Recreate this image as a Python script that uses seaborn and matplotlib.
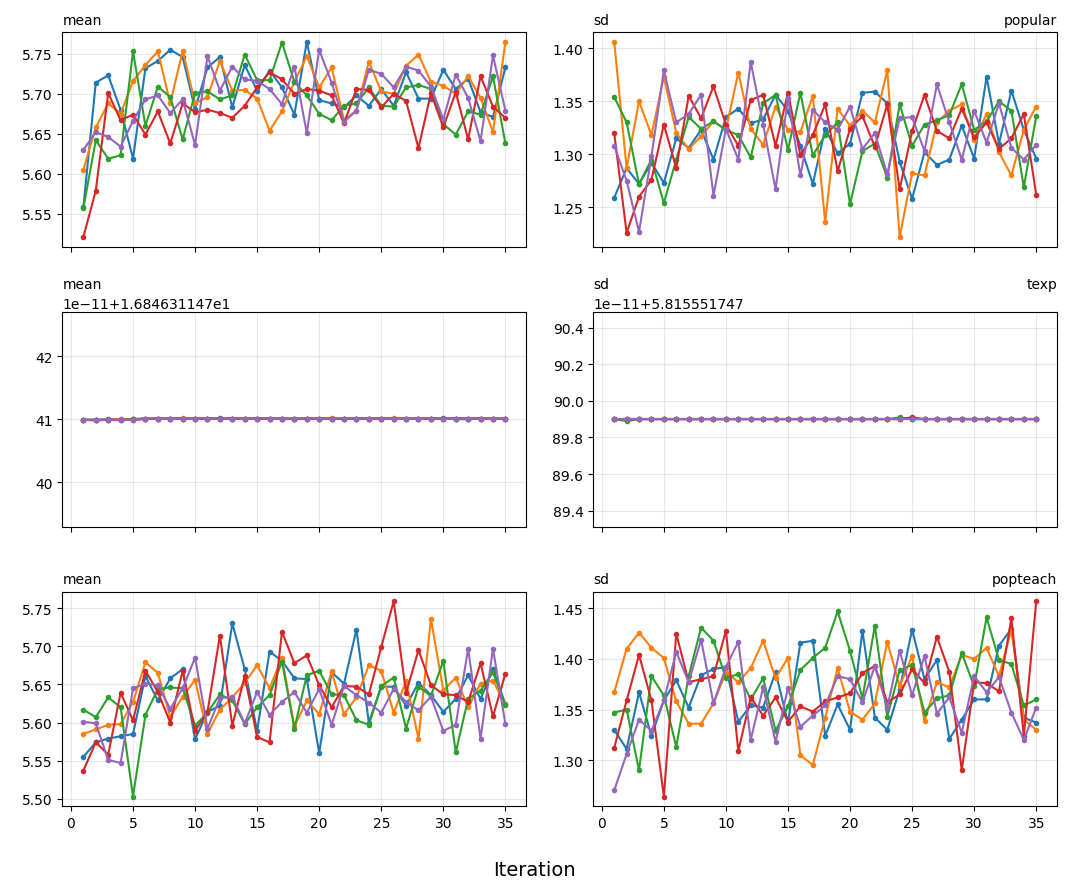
import numpy as np
import pandas as pd
import seaborn as sns
import matplotlib.pyplot as plt

# data
iterations = list(range(1, 36))
runs = ["run 1", "run 2", "run 3", "run 4", "run 5"]

popular_mean = [
    [5.558, 5.714, 5.723, 5.680, 5.619, 5.732, 5.741, 5.755, 5.746, 5.681, 5.733, 5.746, 5.683, 5.736, 5.704, 5.729, 5.708, 5.674,
     5.765, 5.692, 5.688, 5.683, 5.698, 5.685, 5.706, 5.685, 5.727, 5.694, 5.694, 5.730, 5.706, 5.719, 5.677, 5.671, 5.733],
    [5.605, 5.658, 5.688, 5.675, 5.716, 5.736, 5.753, 5.688, 5.754, 5.688, 5.696, 5.741, 5.704, 5.705, 5.694, 5.654, 5.678, 5.715,
     5.747, 5.708, 5.733, 5.667, 5.679, 5.740, 5.703, 5.700, 5.735, 5.749, 5.715, 5.710, 5.700, 5.722, 5.695, 5.652, 5.765],
    [5.557, 5.642, 5.619, 5.623, 5.753, 5.660, 5.709, 5.696, 5.643, 5.701, 5.703, 5.693, 5.698, 5.749, 5.717, 5.717, 5.764, 5.715,
     5.698, 5.675, 5.667, 5.685, 5.688, 5.708, 5.685, 5.684, 5.708, 5.711, 5.706, 5.662, 5.649, 5.678, 5.674, 5.722, 5.638],
    [5.521, 5.579, 5.701, 5.667, 5.674, 5.649, 5.678, 5.638, 5.688, 5.677, 5.680, 5.676, 5.670, 5.685, 5.708, 5.727, 5.718, 5.700,
     5.706, 5.704, 5.698, 5.663, 5.706, 5.705, 5.683, 5.700, 5.691, 5.632, 5.701, 5.658, 5.702, 5.643, 5.722, 5.684, 5.670],
    [5.630, 5.652, 5.646, 5.634, 5.666, 5.693, 5.698, 5.676, 5.693, 5.636, 5.747, 5.704, 5.734, 5.718, 5.716, 5.706, 5.687, 5.734,
     5.651, 5.755, 5.714, 5.665, 5.679, 5.730, 5.725, 5.708, 5.734, 5.729, 5.709, 5.668, 5.724, 5.695, 5.641, 5.748, 5.679],
]

popular_sd = [
    [1.259, 1.287, 1.272, 1.292, 1.273, 1.315, 1.306, 1.323, 1.295, 1.335, 1.343, 1.329, 1.333, 1.356, 1.341, 1.308, 1.272, 1.324,
     1.301, 1.310, 1.358, 1.359, 1.348, 1.293, 1.258, 1.302, 1.290, 1.295, 1.327, 1.296, 1.373, 1.310, 1.360, 1.323, 1.296],
    [1.406, 1.287, 1.350, 1.318, 1.373, 1.320, 1.305, 1.317, 1.331, 1.323, 1.377, 1.324, 1.309, 1.345, 1.323, 1.321, 1.355, 1.236,
     1.343, 1.327, 1.341, 1.330, 1.379, 1.222, 1.282, 1.280, 1.330, 1.341, 1.347, 1.313, 1.338, 1.302, 1.280, 1.323, 1.345],
    [1.354, 1.330, 1.272, 1.295, 1.254, 1.295, 1.335, 1.324, 1.331, 1.323, 1.318, 1.297, 1.348, 1.356, 1.304, 1.358, 1.299, 1.318,
     1.330, 1.253, 1.303, 1.310, 1.278, 1.347, 1.308, 1.328, 1.332, 1.337, 1.366, 1.323, 1.331, 1.350, 1.341, 1.269, 1.336],
    [1.320, 1.226, 1.260, 1.276, 1.328, 1.287, 1.355, 1.334, 1.364, 1.328, 1.308, 1.351, 1.356, 1.308, 1.358, 1.299, 1.318, 1.347,
     1.284, 1.324, 1.336, 1.307, 1.347, 1.267, 1.322, 1.356, 1.322, 1.315, 1.343, 1.316, 1.330, 1.305, 1.315, 1.338, 1.262],
    [1.308, 1.275, 1.227, 1.298, 1.379, 1.330, 1.338, 1.356, 1.261, 1.324, 1.295, 1.387, 1.328, 1.267, 1.353, 1.280, 1.342, 1.330,
     1.323, 1.345, 1.305, 1.320, 1.281, 1.334, 1.335, 1.303, 1.366, 1.330, 1.295, 1.341, 1.311, 1.348, 1.306, 1.295, 1.309],
]

# texp values are nearly constant: stored as base + delta (delta in units of 1e-11)
texp_mean_base = 16.84631147
texp_mean_delta = [
    [40.99, 40.99, 41.00, 41.00, 41.00, 41.01, 41.01, 41.01, 41.01, 41.01, 41.01, 41.02, 41.01, 41.01, 41.01, 41.01, 41.01, 41.01,
     41.01, 41.01, 41.01, 41.01, 41.01, 41.01, 41.01, 41.01, 41.01, 41.01, 41.01, 41.02, 41.01, 41.01, 41.01, 41.01, 41.01],
    [40.99, 40.99, 40.99, 41.00, 41.00, 41.01, 41.01, 41.01, 41.02, 41.01, 41.01, 41.01, 41.01, 41.01, 41.01, 41.01, 41.01, 41.01,
     41.01, 41.01, 41.02, 41.01, 41.01, 41.01, 41.01, 41.02, 41.01, 41.01, 41.01, 41.01, 41.01, 41.01, 41.01, 41.01, 41.01],
    [40.99, 40.99, 40.99, 40.98, 41.00, 41.01, 41.01, 41.01, 41.01, 41.01, 41.01, 41.01, 41.01, 41.01, 41.01, 41.01, 41.01, 41.01,
     41.01, 41.01, 41.01, 41.01, 41.01, 41.01, 41.01, 41.01, 41.01, 41.01, 41.01, 41.01, 41.00, 41.00, 41.01, 41.01, 41.01],
    [40.99, 40.98, 40.99, 40.99, 40.99, 41.00, 41.01, 41.01, 41.01, 41.01, 41.01, 41.01, 41.01, 41.01, 41.01, 41.01, 41.01, 41.00,
     41.01, 41.01, 41.01, 41.00, 41.01, 41.01, 41.01, 41.01, 41.01, 41.01, 41.01, 41.01, 41.01, 41.01, 41.01, 41.01, 41.00],
    [40.99, 40.99, 40.99, 40.99, 40.99, 41.01, 41.01, 41.01, 41.01, 41.01, 41.01, 41.01, 41.01, 41.01, 41.01, 41.01, 41.01, 41.01,
     41.01, 41.01, 41.01, 41.01, 41.01, 41.01, 41.01, 41.01, 41.01, 41.01, 41.01, 41.01, 41.01, 41.01, 41.01, 41.01, 41.01],
]

texp_sd_base = 5.815551747
texp_sd_delta = [
    [89.90, 89.90, 89.90, 89.90, 89.90, 89.90, 89.90, 89.90, 89.90, 89.90, 89.90, 89.90, 89.90, 89.90, 89.90, 89.90, 89.90, 89.90,
     89.90, 89.90, 89.90, 89.90, 89.90, 89.90, 89.90, 89.90, 89.90, 89.90, 89.90, 89.90, 89.90, 89.90, 89.90, 89.90, 89.90],
    [89.90, 89.90, 89.90, 89.90, 89.90, 89.90, 89.90, 89.90, 89.90, 89.90, 89.90, 89.90, 89.90, 89.90, 89.90, 89.90, 89.90, 89.90,
     89.90, 89.90, 89.90, 89.90, 89.90, 89.90, 89.90, 89.90, 89.90, 89.90, 89.90, 89.90, 89.90, 89.90, 89.90, 89.90, 89.90],
    [89.90, 89.89, 89.90, 89.90, 89.90, 89.90, 89.90, 89.90, 89.90, 89.90, 89.90, 89.90, 89.90, 89.90, 89.90, 89.90, 89.90, 89.90,
     89.90, 89.90, 89.90, 89.90, 89.90, 89.91, 89.90, 89.90, 89.90, 89.90, 89.90, 89.90, 89.90, 89.90, 89.90, 89.90, 89.90],
    [89.90, 89.90, 89.90, 89.90, 89.90, 89.90, 89.90, 89.90, 89.90, 89.90, 89.90, 89.90, 89.90, 89.90, 89.90, 89.90, 89.90, 89.90,
     89.90, 89.90, 89.90, 89.90, 89.90, 89.90, 89.91, 89.90, 89.90, 89.90, 89.90, 89.90, 89.90, 89.90, 89.90, 89.90, 89.90],
    [89.90, 89.90, 89.90, 89.90, 89.90, 89.90, 89.90, 89.90, 89.90, 89.90, 89.90, 89.90, 89.90, 89.90, 89.90, 89.90, 89.90, 89.90,
     89.90, 89.90, 89.90, 89.90, 89.90, 89.90, 89.90, 89.90, 89.90, 89.90, 89.90, 89.90, 89.90, 89.90, 89.90, 89.90, 89.90],
]

popteach_mean = [
    [5.555, 5.574, 5.579, 5.582, 5.585, 5.661, 5.629, 5.658, 5.670, 5.578, 5.614, 5.622, 5.730, 5.670, 5.589, 5.693, 5.681, 5.658,
     5.657, 5.560, 5.666, 5.651, 5.722, 5.600, 5.647, 5.647, 5.622, 5.652, 5.636, 5.614, 5.631, 5.662, 5.631, 5.670, 5.624],
    [5.585, 5.591, 5.597, 5.598, 5.627, 5.679, 5.665, 5.607, 5.634, 5.656, 5.585, 5.617, 5.633, 5.652, 5.675, 5.645, 5.685, 5.595,
     5.629, 5.611, 5.667, 5.611, 5.633, 5.675, 5.668, 5.613, 5.654, 5.579, 5.736, 5.642, 5.659, 5.620, 5.651, 5.655, 5.624],
    [5.617, 5.607, 5.633, 5.620, 5.503, 5.610, 5.644, 5.646, 5.645, 5.596, 5.613, 5.637, 5.629, 5.598, 5.620, 5.636, 5.680, 5.592,
     5.662, 5.668, 5.637, 5.636, 5.603, 5.597, 5.648, 5.659, 5.592, 5.647, 5.635, 5.681, 5.561, 5.631, 5.642, 5.666, 5.623],
    [5.537, 5.574, 5.558, 5.639, 5.603, 5.668, 5.640, 5.600, 5.668, 5.589, 5.614, 5.714, 5.596, 5.661, 5.581, 5.574, 5.719, 5.678,
     5.688, 5.649, 5.620, 5.648, 5.647, 5.637, 5.699, 5.759, 5.639, 5.695, 5.649, 5.637, 5.636, 5.627, 5.678, 5.608, 5.664],
    [5.601, 5.599, 5.551, 5.547, 5.645, 5.651, 5.649, 5.618, 5.645, 5.685, 5.592, 5.632, 5.634, 5.599, 5.640, 5.610, 5.627, 5.640,
     5.613, 5.644, 5.597, 5.648, 5.636, 5.626, 5.613, 5.644, 5.627, 5.616, 5.634, 5.589, 5.597, 5.697, 5.579, 5.697, 5.598],
]

popteach_sd = [
    [1.330, 1.311, 1.367, 1.324, 1.359, 1.379, 1.352, 1.384, 1.390, 1.392, 1.338, 1.354, 1.352, 1.387, 1.337, 1.416, 1.418, 1.324,
     1.355, 1.330, 1.428, 1.342, 1.330, 1.370, 1.429, 1.380, 1.399, 1.321, 1.340, 1.360, 1.360, 1.413, 1.430, 1.342, 1.337],
    [1.367, 1.410, 1.426, 1.411, 1.401, 1.358, 1.336, 1.336, 1.356, 1.387, 1.377, 1.391, 1.418, 1.381, 1.401, 1.305, 1.295, 1.342,
     1.391, 1.348, 1.340, 1.356, 1.417, 1.373, 1.403, 1.339, 1.377, 1.372, 1.404, 1.400, 1.411, 1.383, 1.429, 1.340, 1.330],
    [1.347, 1.350, 1.290, 1.383, 1.364, 1.313, 1.383, 1.431, 1.418, 1.381, 1.385, 1.360, 1.381, 1.329, 1.353, 1.389, 1.401, 1.411,
     1.447, 1.408, 1.361, 1.433, 1.343, 1.389, 1.394, 1.347, 1.361, 1.364, 1.406, 1.373, 1.441, 1.399, 1.395, 1.354, 1.360],
    [1.312, 1.359, 1.404, 1.359, 1.264, 1.425, 1.377, 1.380, 1.383, 1.428, 1.309, 1.362, 1.344, 1.362, 1.338, 1.353, 1.348, 1.358,
     1.362, 1.366, 1.386, 1.393, 1.357, 1.365, 1.390, 1.376, 1.422, 1.387, 1.290, 1.377, 1.376, 1.368, 1.440, 1.324, 1.457],
    [1.270, 1.306, 1.340, 1.329, 1.359, 1.407, 1.377, 1.419, 1.356, 1.392, 1.417, 1.320, 1.372, 1.318, 1.371, 1.333, 1.344, 1.354,
     1.383, 1.380, 1.357, 1.393, 1.352, 1.408, 1.364, 1.403, 1.346, 1.362, 1.327, 1.383, 1.367, 1.382, 1.347, 1.320, 1.352],
]


def to_frame(series, base=None):
    frames = []
    for run, vals in zip(runs, series):
        vals = np.asarray(vals, dtype=float)
        if base is not None:
            vals = base + vals * 1e-11
        frames.append(pd.DataFrame({"Iteration": iterations, "value": vals, "run": run}))
    return pd.concat(frames, ignore_index=True)


def draw(ax, df):
    sns.lineplot(data=df, x="Iteration", y="value", hue="run",
                 palette=sns.color_palette("tab10", 5), estimator=None,
                 marker="o", markersize=4, markeredgewidth=0, linewidth=1.5,
                 legend=False, ax=ax)
    ax.set_xlabel("")
    ax.set_ylabel("")
    ax.grid(True, alpha=0.3)


fig, axes = plt.subplots(3, 2, sharex=True, figsize=(10.68, 8.95), dpi=100)
fig.subplots_adjust(left=0.0583, right=0.99, top=0.9631, bottom=0.098,
                    hspace=0.3026, wspace=0.1435)

# row 1: popular
draw(axes[0, 0], to_frame(popular_mean))
draw(axes[0, 1], to_frame(popular_sd))
# row 2: texp (constant values, shown with offset)
draw(axes[1, 0], to_frame(texp_mean_delta, texp_mean_base))
draw(axes[1, 1], to_frame(texp_sd_delta, texp_sd_base))
# row 3: popteach
draw(axes[2, 0], to_frame(popteach_mean))
draw(axes[2, 1], to_frame(popteach_sd))

ax = axes[1, 0]
ax.set_ylim(texp_mean_base + 39.3e-11, texp_mean_base + 42.7e-11)
ax.set_yticks([texp_mean_base + k * 1e-11 for k in (40, 41, 42)])
ax.yaxis.get_major_formatter().set_useOffset(texp_mean_base)

ax = axes[1, 1]
ax.set_ylim(texp_sd_base + 89.313e-11, texp_sd_base + 90.487e-11)
ax.set_yticks([texp_sd_base + k * 1e-11 for k in (89.4, 89.6, 89.8, 90.0, 90.2, 90.4)])
ax.yaxis.get_major_formatter().set_useOffset(texp_sd_base)

for row, name in enumerate(["popular", "texp", "popteach"]):
    axes[row, 0].set_title("mean", loc="left", fontsize=10)
    axes[row, 1].set_title("sd", loc="left", fontsize=10)
    axes[row, 1].set_title(name, loc="right", fontsize=10)

axes[2, 0].set_xticks([0, 5, 10, 15, 20, 25, 30, 35])

fig.text(0.5, 0.027, "Iteration", ha="center", va="center", fontsize=14)

fig.savefig("out.png", dpi=100)
